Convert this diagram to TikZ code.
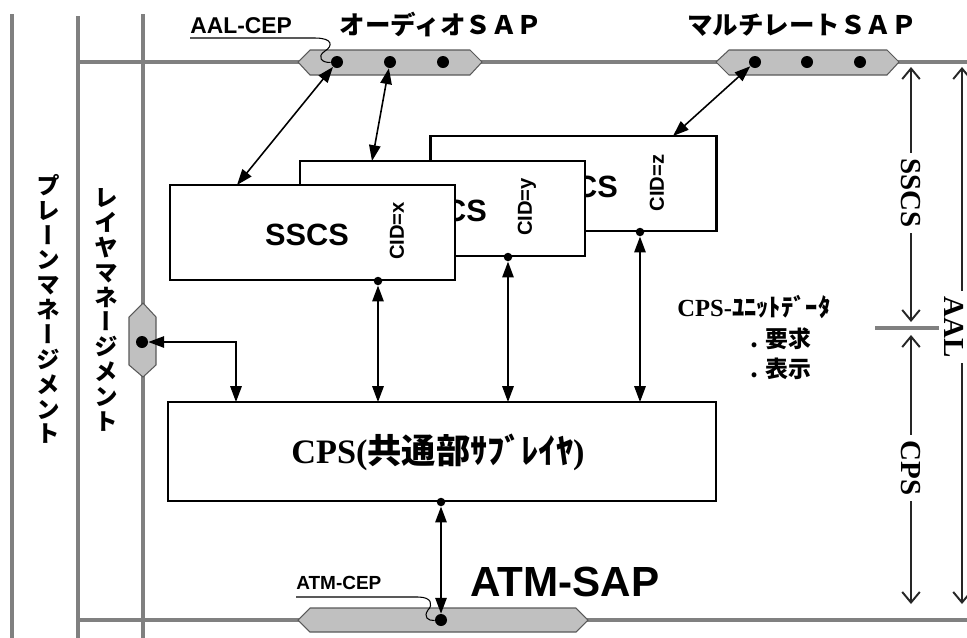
\documentclass[tikz,border=0pt]{standalone}
\usepackage{fontspec}
\setmainfont{Liberation Serif}
\newfontfamily\arial{Liberation Sans}
\newfontfamily\jp{Noto Sans CJK JP}
\newfontfamily\jpv{Noto Sans CJK JP}[RawFeature=+vert]
\usetikzlibrary{arrows.meta}
\definecolor{lgray}{RGB}{128,128,128}
\definecolor{hfill}{RGB}{192,192,192}
\tikzset{
  gline/.style={draw=lgray, line width=2.8pt},
  hexa/.style={fill=hfill, draw=black!65, line width=0.6pt},
  dot/.style={circle, fill=black, inner sep=0pt, minimum size=0.24cm},
  sdot/.style={circle, fill=black, inner sep=0pt, minimum size=0.17cm},
  box/.style={draw=black, line width=1.5pt, fill=white, inner sep=0pt},
  dbl/.style={{Triangle[length=9pt,width=6.5pt]}-{Triangle[length=9pt,width=6.5pt]}, line width=0.9pt},
  dim/.style={{Straight Barb[length=6pt,width=10pt,line width=1.1pt]}-{Straight Barb[length=6pt,width=10pt,line width=1.1pt]}, line width=0.6pt, draw=black!85},
  sscslab/.style={font=\arial\bfseries\fontsize{17.5}{20}\selectfont, inner sep=0pt},
  cidlab/.style={font=\arial\bfseries\fontsize{11.5}{13}\selectfont, rotate=90, inner sep=0pt},
  dimlab/.style={font=\bfseries\fontsize{16.5}{18}\selectfont, rotate=-90, fill=white, inner sep=3pt},
  vlab/.style={font=\jpv\bfseries\fontsize{13.5}{14.15}\selectfont, align=center, inner sep=0pt},
  toplab/.style={font=\jp\bfseries\fontsize{14.5}{16}\selectfont, inner sep=0pt},
  cep/.style={line width=0.6pt, draw=black},
}
\begin{document}
\begin{tikzpicture}[x=0.02cm,y=-0.02cm]
\useasboundingbox (0,0) rectangle (967,637);
% gray structure lines
\draw[gline] (12,14) -- (12,640);
\draw[gline] (78,16) -- (78,640);
\draw[gline] (143,14) -- (143,640);
\draw[gline] (78,62) -- (970,62);
\draw[gline] (78,620) -- (970,620);
\draw[draw=lgray, line width=2.4pt] (875,328) -- (945,328);

% SAP hexagons
\draw[hexa] (298,62) -- (310,50) -- (470,50) -- (482,62) -- (470,75) -- (310,75) -- cycle;
\draw[hexa] (716,62) -- (729,50) -- (887,50) -- (899,62) -- (887,75) -- (729,75) -- cycle;
\draw[hexa] (298,620) -- (310,608) -- (576,608) -- (588,620) -- (576,632) -- (310,632) -- cycle;
\draw[hexa] (143,303) -- (156,317) -- (156,365) -- (143,377) -- (129,365) -- (129,317) -- cycle;

% dots on SAPs
\node[dot] (ad1) at (337,62) {};
\node[dot] (ad2) at (390,62) {};
\node[dot] (ad3) at (443,62) {};
\node[dot] (md1) at (755,62) {};
\node[dot] (md2) at (807,62) {};
\node[dot] (md3) at (860,62) {};
\node[dot] (atmdot) at (441,620) {};
\node[dot] (lmdot) at (142,342) {};

% top labels
\node[toplab] (audio) at (441,25) {オーディオＳＡＰ};
\node[toplab] (multi) at (802,25) {マルチレートＳＡＰ};
\node[font=\arial\bfseries\fontsize{13}{15}\selectfont, anchor=base west, inner sep=0pt] (aalcep) at (190,33) {AAL-CEP};
\draw[cep] (190,38) -- (315,38) .. controls (333,38) and (333,46) .. (325,51) .. controls (316,57) and (322,63) .. (ad1);

% vertical management labels
\node[vlab] (pm) at (48,309) {プ\\レ\\ー\\ン\\マ\\ネ\\ー\\ジ\\メ\\ン\\ト};
\node[vlab] (lm) at (106,310) {レ\\イ\\ヤ\\マ\\ネ\\ー\\ジ\\メ\\ン\\ト};

% SSCS boxes (back to front)
\node[box, minimum width=5.72cm, minimum height=1.9cm] (bk) at (573.5,183.5) {};
\node[sscslab] (sz) at (576,187) {SSCS};
\node[cidlab] (cidz) at (657,183) {CID=z};
\node[box, minimum width=5.7cm, minimum height=1.9cm] (md) at (442.5,208.5) {};
\node[sscslab] (sy) at (445,211) {SSCS};
\node[cidlab] (cidy) at (527,207) {CID=y};
\node[box, minimum width=5.7cm, minimum height=1.9cm] (fr) at (312.5,232.5) {};
\node[sscslab] (sx) at (307,235) {SSCS};
\node[cidlab] (cidx) at (397,231) {CID=x};

% CPS box
\node[box, minimum width=10.96cm, minimum height=1.98cm] (cps) at (442,451.5) {};
\node[font=\bfseries\fontsize{19.5}{22}\selectfont, inner sep=0pt] (cpstxt) at (438,452) {CPS({\jp 共通部ｻﾌﾞﾚｲﾔ})};

% small dots on box bottoms
\node[sdot] (fbd) at (378,281) {};
\node[sdot] (mbd) at (508,257) {};
\node[sdot] (bbd) at (640,232) {};
\node[sdot] (cbd) at (441,502) {};

% connection points
\coordinate (ftop) at (237,185);
\coordinate (mtop) at (372,161);
\coordinate (btop) at (673,136);
\coordinate (c0) at (236,402);
\coordinate (c1) at (378,402);
\coordinate (c2) at (508,402);
\coordinate (c3) at (640,402);

% arrows
\draw[dbl] (ad1) -- (ftop);
\draw[dbl] (ad2) -- (mtop);
\draw[dbl] (md1) -- (btop);
\draw[dbl] (fbd) -- (c1);
\draw[dbl] (mbd) -- (c2);
\draw[dbl] (bbd) -- (c3);
\draw[dbl] (lmdot) -| (c0);
\draw[dbl] (cbd) -- (atmdot);

% CPS unit data labels
\node[anchor=base west, font=\bfseries\fontsize{14}{16}\selectfont, inner sep=0pt] (unit) at (677,316) {CPS-{\jp ﾕﾆｯﾄﾃﾞｰﾀ}};
\node[anchor=base west, font=\jp\bfseries\fontsize{13}{15}\selectfont, inner sep=0pt] (req) at (750,347) {. 要求};
\node[anchor=base west, font=\jp\bfseries\fontsize{13}{15}\selectfont, inner sep=0pt] (ind) at (750,377) {. 表示};

% ATM-SAP labels
\node[font=\arial\bfseries\fontsize{10.8}{12}\selectfont, anchor=base west, inner sep=0pt] (atmcep) at (296,589) {ATM-CEP};
\draw[cep] (296,597) -- (418,597) .. controls (432,597) and (433,605) .. (428,610) .. controls (423,617) and (428,621) .. (atmdot);
\node[font=\arial\bfseries\fontsize{24}{26}\selectfont, anchor=base west, inner sep=0pt] (atmsap) at (470,596) {ATM-SAP};

% right-hand dimension lines
\coordinate (ds1) at (911,67);
\coordinate (ds2) at (911,322);
\coordinate (dc1) at (911,335);
\coordinate (dc2) at (911,604);
\coordinate (da1) at (962,67);
\coordinate (da2) at (962,604);
\draw[dim] (ds1) -- (ds2);
\draw[dim] (dc1) -- (dc2);
\draw[dim] (da1) -- (da2);
\node[dimlab] (lsscs) at (911,193) {SSCS};
\node[dimlab] (lcps) at (911,468) {CPS};
\node[dimlab] (laal) at (954,327) {AAL};
\end{tikzpicture}
\end{document}
